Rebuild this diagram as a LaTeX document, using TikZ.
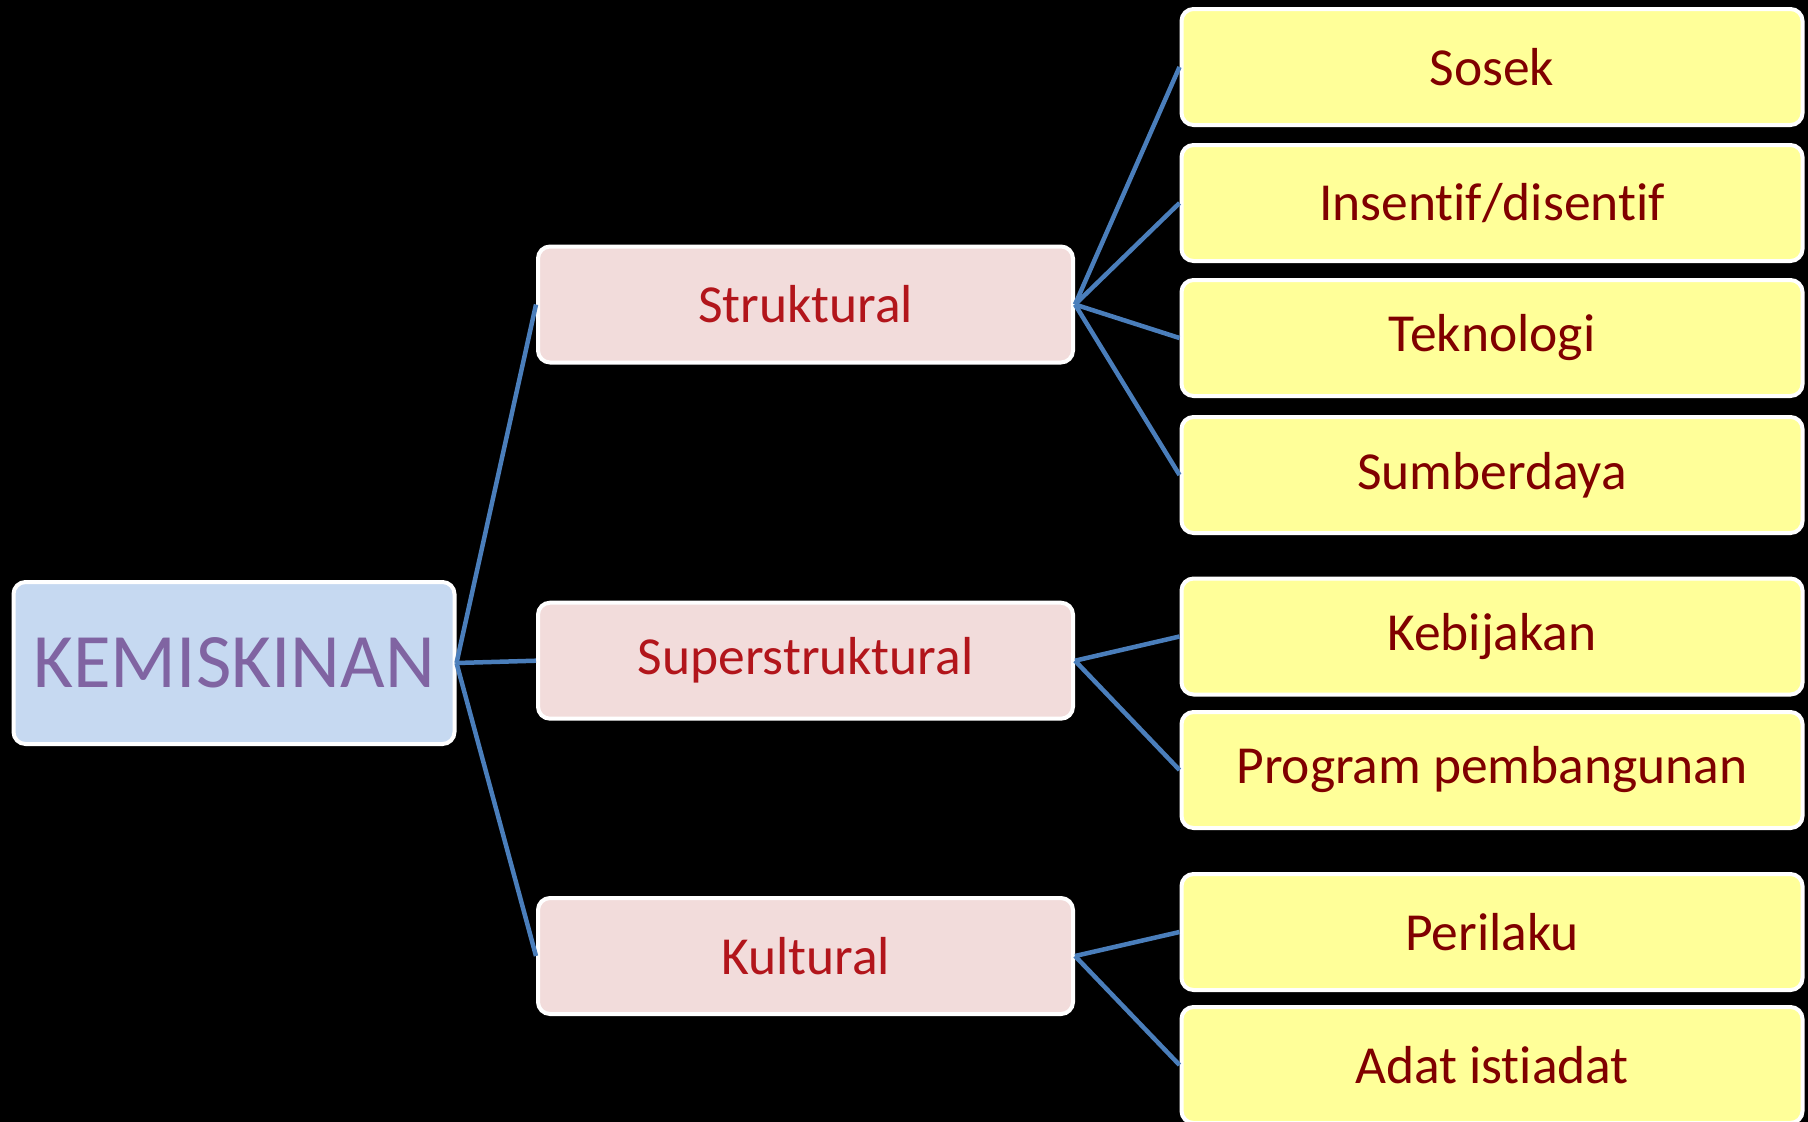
\documentclass[tikz,border=0pt]{standalone}
\usepackage{fontspec}
\setmainfont[Ligatures=NoCommon]{Carlito}
\definecolor{rootfill}{HTML}{C6D9F1}
\definecolor{roottext}{HTML}{8064A2}
\definecolor{midfill}{HTML}{F2DCDB}
\definecolor{midtext}{HTML}{B2151B}
\definecolor{leaffill}{HTML}{FFFF99}
\definecolor{leaftext}{HTML}{800000}
\definecolor{linkcol}{HTML}{4A7EBB}
\begin{document}
\begin{tikzpicture}[x=1pt,y=-1pt,
  box/.style={draw=white,line width=4pt,rounded corners=12pt,inner sep=0pt,align=center},
  rootbox/.style={box,fill=rootfill,text=roottext,minimum width=441pt,minimum height=162pt,font=\fontsize{77}{90}\selectfont},
  midbox/.style={box,fill=midfill,text=midtext,minimum width=535pt,minimum height=116pt,font=\fontsize{53.5}{64}\selectfont},
  leafbox/.style={box,fill=leaffill,text=leaftext,minimum width=621pt,minimum height=116pt,font=\fontsize{53.5}{64}\selectfont},
  link/.style={draw=linkcol,line width=4.5pt}]
\fill[black] (0,0) rectangle (1808,1122);
\useasboundingbox (0,0) rectangle (1808,1122);
\node[rootbox] (root) at (234,663) {KEMISKINAN};
\node[midbox] (m1) at (805.5,304.5) {Struktural};
\node[midbox] (m2) at (805.5,660.7) {Superstruktural};
\node[midbox] (m3) at (805.5,956) {Kultural};
\node[leafbox] (l1) at (1492,67) {Sosek};
\node[leafbox] (l2) at (1492,203) {Insentif/disentif};
\node[leafbox] (l3) at (1492,338) {Teknologi};
\node[leafbox] (l4) at (1492,475) {Sumberdaya};
\node[leafbox] (l5) at (1492,636.5) {Kebijakan};
\node[leafbox] (l6) at (1492,770) {Program pembangunan};
\node[leafbox] (l7) at (1492,932) {Perilaku};
\node[leafbox] (l8) at (1492,1065) {Adat istiadat};
\foreach \m in {m1,m2,m3} \draw[link] (root.east) -- (\m.west);
\foreach \l in {l1,l2,l3,l4} \draw[link] (m1.east) -- (\l.west);
\foreach \l in {l5,l6} \draw[link] (m2.east) -- (\l.west);
\foreach \l in {l7,l8} \draw[link] (m3.east) -- (\l.west);
\end{tikzpicture}
\end{document}
